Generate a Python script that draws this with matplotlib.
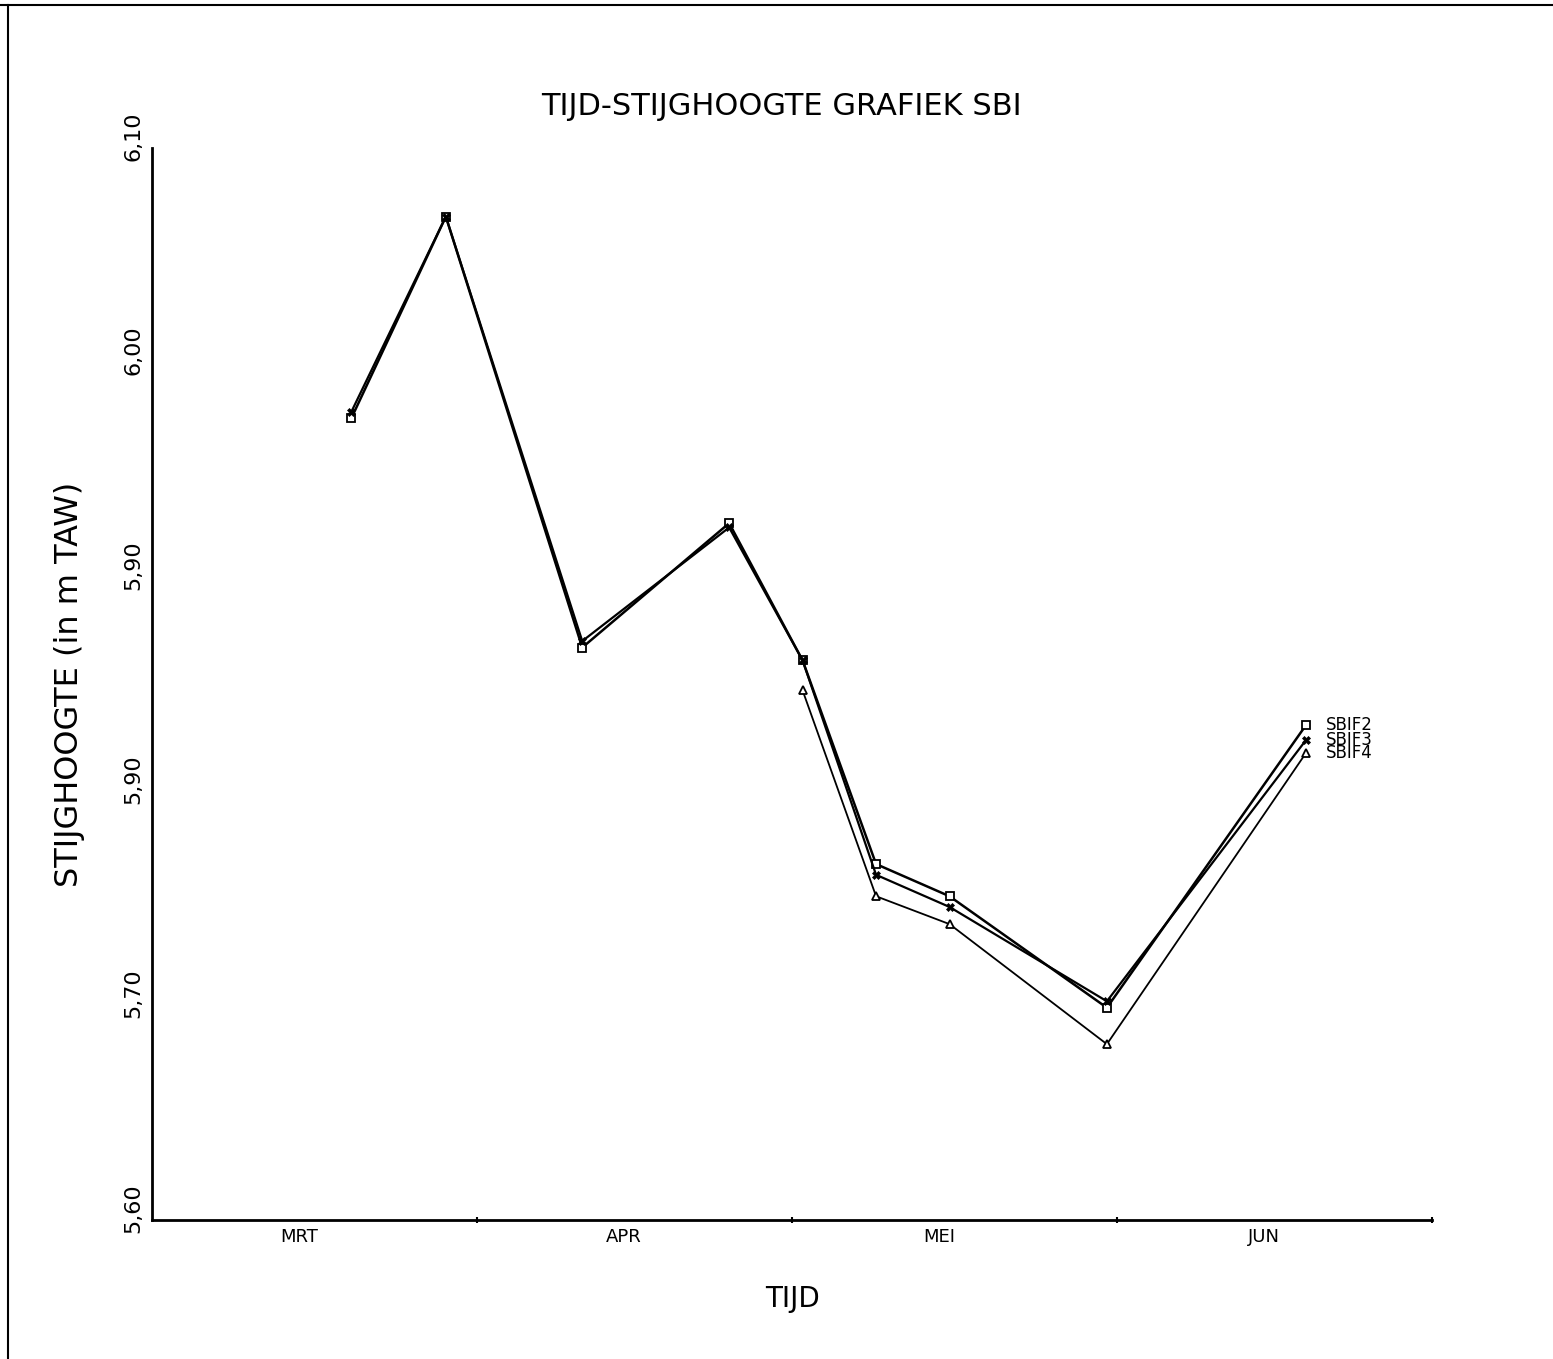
import numpy as np
import pandas as pd
import matplotlib
matplotlib.use("Agg")
from matplotlib import pyplot as plt
from matplotlib.lines import Line2D
from matplotlib.transforms import ScaledTranslation

# measurement dates (year unknown, one non-leap year used)
dates_all = ["1985-03-20", "1985-03-29", "1985-04-11", "1985-04-25", "1985-05-02",
             "1985-05-09", "1985-05-16", "1985-05-31", "1985-06-19"]
dates_f4 = dates_all[4:]

sbif2 = [5.974, 6.068, 5.867, 5.925, 5.861, 5.766, 5.751, 5.699, 5.831]
sbif3 = [5.977, 6.068, 5.870, 5.923, 5.861, 5.761, 5.746, 5.702, 5.824]
sbif4 = [5.847, 5.751, 5.738, 5.682, 5.818]

yticks = [5.60, 5.70, 5.80, 5.90, 6.00, 6.10]
ytick_labels = ["5,60", "5,70", "5,90", "5,90", "6,00", "6,10"]
month_bounds = ["1985-03-01", "1985-04-01", "1985-05-01", "1985-06-01", "1985-07-01"]
month_mid = ["1985-03-15", "1985-04-15", "1985-05-15", "1985-06-15"]
month_names = ["MRT", "APR", "MEI", "JUN"]

x_all = pd.to_datetime(dates_all)
x_f4 = pd.to_datetime(dates_f4)

plt.rcParams['font.family'] = ['DejaVu Sans']

fig = plt.figure(figsize=(15.53, 13.59), dpi=100)
ax = fig.add_axes([0.0979, 0.1023, 0.8243, 0.7888])

ax.plot(x_all, sbif2, color="black", lw=1.8, marker="s", ms=6, mfc="white", mec="black", mew=1.3)
ax.plot(x_all, sbif3, color="black", lw=1.6, marker="X", ms=6, mfc="black", mec="black", mew=0.5)
ax.plot(x_f4, sbif4, color="black", lw=1.3, marker="^", ms=6, mfc="white", mec="black", mew=1.3)

# series names next to last points
for name, xs, ys in [("SBIF2", x_all, sbif2), ("SBIF3", x_all, sbif3), ("SBIF4", x_f4, sbif4)]:
    ax.annotate(name, (xs[-1], ys[-1]), xytext=(14, 0), textcoords="offset points",
                fontsize=12, va="center", ha="left")

ax.set_xlim(pd.Timestamp(month_bounds[0]), pd.Timestamp(month_bounds[-1]))
ax.set_ylim(5.60, 6.10)

ax.spines["top"].set_visible(False)
ax.spines["right"].set_visible(False)
ax.spines["left"].set_linewidth(2)
ax.spines["bottom"].set_linewidth(2)

ax.set_yticks(yticks)
ax.set_yticklabels(ytick_labels, rotation=90, va="center", fontsize=16)
ax.tick_params(axis="y", length=0, pad=6)
shift = ScaledTranslation(0, 12 / 100, fig.dpi_scale_trans)
for lab in ax.get_yticklabels():
    lab.set_transform(lab.get_transform() + shift)

ax.set_xticks(pd.to_datetime(month_bounds[1:]))
ax.set_xticklabels([])
ax.set_xticks(pd.to_datetime(month_mid), minor=True)
ax.set_xticklabels(month_names, minor=True, fontsize=13)
ax.tick_params(axis="x", which="major", length=5, width=1.5, direction="inout")
ax.tick_params(axis="x", which="minor", length=0, pad=6)

ax.set_xlabel("TIJD", fontsize=20, labelpad=28)
ax.set_ylabel("STIJGHOOGTE (in m TAW)", fontsize=23, labelpad=28)
fig.text(0.503, 0.922, "TIJD-STIJGHOOGTE GRAFIEK SBI", fontsize=22, ha="center", va="center")

# scanned page border
fig.add_artist(Line2D([0, 1], [0.996, 0.996], color="black", lw=1.5, transform=fig.transFigure))
fig.add_artist(Line2D([0.005, 0.005], [0, 0.996], color="black", lw=1.5, transform=fig.transFigure))

fig.savefig("out.png", dpi=100)
